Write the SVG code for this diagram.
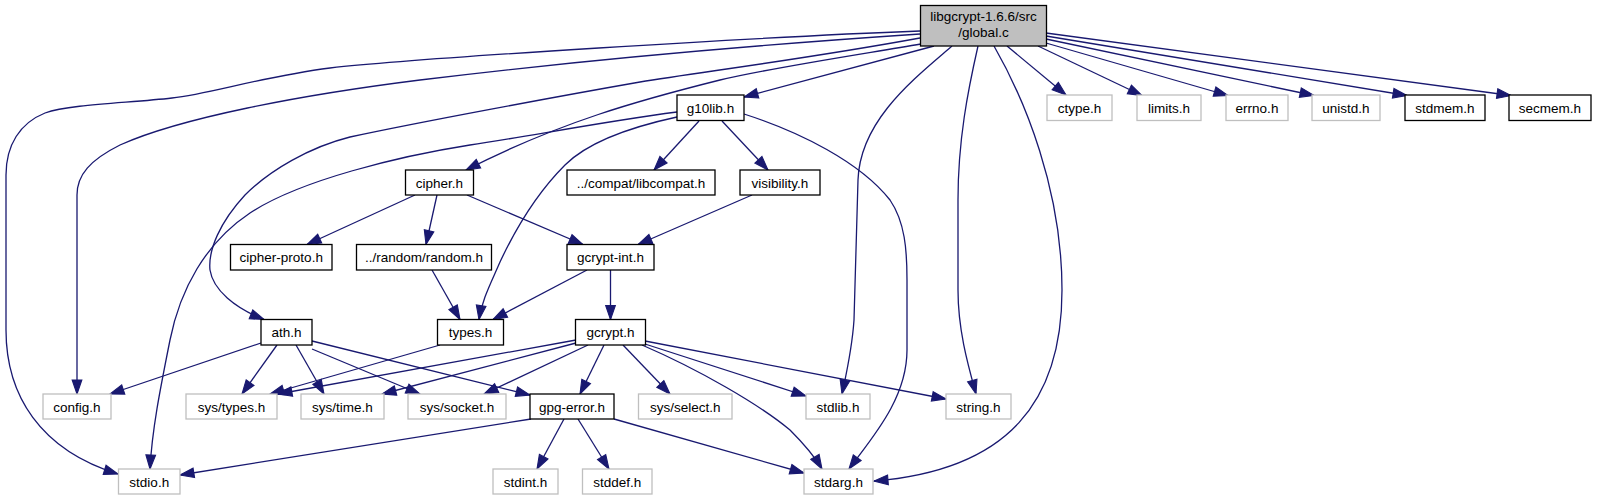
<svg xmlns="http://www.w3.org/2000/svg" width="1597" height="500" viewBox="0 0 1597 500">
<style>
.n rect{fill:#fff;stroke:#000;stroke-width:1.3}
.g rect{fill:#fff;stroke:#bfbfbf;stroke-width:1.3}
.r rect{fill:#bfbfbf;stroke:#000;stroke-width:1.3}
text{font-family:"Liberation Sans",Arial,sans-serif;font-size:13.5px;fill:#000;text-anchor:middle}
#edges path{fill:none;stroke:#191970;stroke-width:1.3;marker-end:url(#ah)}
</style>
<defs>
<marker id="ah" markerUnits="userSpaceOnUse" markerWidth="14" markerHeight="10" refX="13" refY="4.5" orient="auto" viewBox="0 0 13 9" overflow="visible">
<path d="M0,0 L13,4.5 L0,9 z" fill="#191970" stroke="#191970" stroke-width="1"/>
</marker>
</defs>
<rect width="1597" height="500" fill="#fff"/>
<g id="edges">
<path d="M920,31 C760,37 420,58 330,68 C260,77 210,94 172,98 C130,103 70,104 45,113 C20,123 6,145 6,175 L6,330 C6,395 40,450 118,474"/>
<path d="M920,34 C800,42 600,58 420,80 C300,95 180,118 120,145 C90,160 77,175 77,195 L77,394"/>
<path d="M920,38 C800,60 700,72 640,82 C560,96 420,122 350,137 C310,147 270,170 245,195 C220,222 208,250 210,270 C213,290 235,308 264,319.5"/>
<path d="M921,44 C850,56 770,68 720,80 C640,100 560,122 466,170"/>
<path d="M934,46 L744,97"/>
<path d="M952,46 C915,78 860,120 858,180 L854,320 C852,350 846,375 842,394"/>
<path d="M978,46 C968,90 958,140 958,200 L958,290 C958,330 968,365 976,394"/>
<path d="M994,46 C1025,100 1062,190 1062,290 C1062,400 1010,470 874,481"/>
<path d="M1007,46 L1066,95"/>
<path d="M1038,46 L1142,95.5"/>
<path d="M1046,43 L1228,95.5"/>
<path d="M1046,39 L1314,95.5"/>
<path d="M1046,36 L1407,95.5"/>
<path d="M1046,33 L1511,95.5"/>
<path d="M677,112 C600,122 520,138 470,145 C400,156 300,180 250,213 C205,243 180,290 170,340 C160,390 152,430 150,469"/>
<path d="M677,117 C640,125 590,140 565,165 C535,195 515,230 500,262 C490,285 482,300 479,319.5"/>
<path d="M699,121 L654,170"/>
<path d="M722,121 L768,170"/>
<path d="M744,114 C800,132 860,162 890,200 C905,222 907,250 907,280 L907,350 C907,400 870,440 849,469"/>
<path d="M415,195 L307,244.5"/>
<path d="M437,195 L426,244.5"/>
<path d="M467,195 L583,244.5"/>
<path d="M752,195 L638,244.5"/>
<path d="M432,270 L460,319.5"/>
<path d="M587,270 L493,319.5"/>
<path d="M610.5,270 L610.5,319.5"/>
<path d="M440,345 L270,394"/>
<path d="M261,343 L110,394"/>
<path d="M277,345 L242,394"/>
<path d="M296,345 L324,394"/>
<path d="M312,349 L420,394"/>
<path d="M312,341 L530,395"/>
<path d="M576,340 L278,394"/>
<path d="M576,343 L382,394"/>
<path d="M588,345 L484,394"/>
<path d="M604,345 L580,394"/>
<path d="M623,345 L670,394"/>
<path d="M645,344 L806,396"/>
<path d="M645,341 L946,399"/>
<path d="M642,345 C700,370 760,405 790,430 C805,445 815,457 822,469"/>
<path d="M531,419 L180,475"/>
<path d="M564,419 L537,469"/>
<path d="M578,419 L609,469"/>
<path d="M614,419 L804,473"/>
</g>
<g id="root" class="r"><rect x="920.5" y="5.5" width="126" height="40.5"/><text x="983.5" y="21">libgcrypt-1.6.6/src</text><text x="983.5" y="36.5">/global.c</text></g>
<g id="g10lib" class="n"><rect x="677" y="95" width="67" height="25.5"/><text x="710.5" y="112.5">g10lib.h</text></g>
<g id="ctype" class="g"><rect x="1047" y="95" width="65" height="25.5"/><text x="1079.5" y="112.5">ctype.h</text></g>
<g id="limits" class="g"><rect x="1137" y="95" width="64" height="25.5"/><text x="1169" y="112.5">limits.h</text></g>
<g id="errno" class="g"><rect x="1226" y="95" width="62" height="25.5"/><text x="1257" y="112.5">errno.h</text></g>
<g id="unistd" class="g"><rect x="1312" y="95" width="68" height="25.5"/><text x="1346" y="112.5">unistd.h</text></g>
<g id="stdmem" class="n"><rect x="1405" y="95" width="80" height="25.5"/><text x="1445" y="112.5">stdmem.h</text></g>
<g id="secmem" class="n"><rect x="1509" y="95" width="82" height="25.5"/><text x="1550" y="112.5">secmem.h</text></g>
<g id="libcompat" class="n"><rect x="567" y="170" width="148" height="25"/><text x="641" y="187.5">../compat/libcompat.h</text></g>
<g id="visibility" class="n"><rect x="740" y="170" width="80" height="25"/><text x="780" y="187.5">visibility.h</text></g>
<g id="cipher" class="n"><rect x="405.5" y="170" width="68" height="25"/><text x="439.5" y="187.5">cipher.h</text></g>
<g id="cipherproto" class="n"><rect x="230.5" y="244.5" width="101.5" height="25.5"/><text x="281.25" y="262">cipher-proto.h</text></g>
<g id="random" class="n"><rect x="356.5" y="244.5" width="135" height="25.5"/><text x="424" y="262">../random/random.h</text></g>
<g id="gcryptint" class="n"><rect x="567" y="244.5" width="87" height="25.5"/><text x="610.5" y="262">gcrypt-int.h</text></g>
<g id="ath" class="n"><rect x="261" y="319.5" width="51" height="25.5"/><text x="286.5" y="337">ath.h</text></g>
<g id="types" class="n"><rect x="437.5" y="319.5" width="66" height="25.5"/><text x="470.5" y="337">types.h</text></g>
<g id="gcrypt" class="n"><rect x="575.5" y="319.5" width="70" height="25.5"/><text x="610.5" y="337">gcrypt.h</text></g>
<g id="config" class="g"><rect x="43" y="394" width="68" height="25"/><text x="77" y="411.5">config.h</text></g>
<g id="systypes" class="g"><rect x="186" y="394" width="91" height="25"/><text x="231.5" y="411.5">sys/types.h</text></g>
<g id="systime" class="g"><rect x="301" y="394" width="83" height="25"/><text x="342.5" y="411.5">sys/time.h</text></g>
<g id="syssocket" class="g"><rect x="408" y="394" width="98" height="25"/><text x="457" y="411.5">sys/socket.h</text></g>
<g id="gpgerror" class="n"><rect x="530" y="394" width="84" height="25"/><text x="572" y="411.5">gpg-error.h</text></g>
<g id="sysselect" class="g"><rect x="638.5" y="394" width="93.5" height="25"/><text x="685.25" y="411.5">sys/select.h</text></g>
<g id="stdlib" class="g"><rect x="806" y="394" width="64" height="25"/><text x="838" y="411.5">stdlib.h</text></g>
<g id="string" class="g"><rect x="946" y="394" width="65" height="25"/><text x="978.5" y="411.5">string.h</text></g>
<g id="stdio" class="g"><rect x="118.5" y="469" width="61.5" height="25"/><text x="149.25" y="486.5">stdio.h</text></g>
<g id="stdint" class="g"><rect x="493" y="469" width="65" height="25"/><text x="525.5" y="486.5">stdint.h</text></g>
<g id="stddef" class="g"><rect x="582.5" y="469" width="69.5" height="25"/><text x="617.25" y="486.5">stddef.h</text></g>
<g id="stdarg" class="g"><rect x="804" y="469" width="69" height="25"/><text x="838.5" y="486.5">stdarg.h</text></g>
</svg>
